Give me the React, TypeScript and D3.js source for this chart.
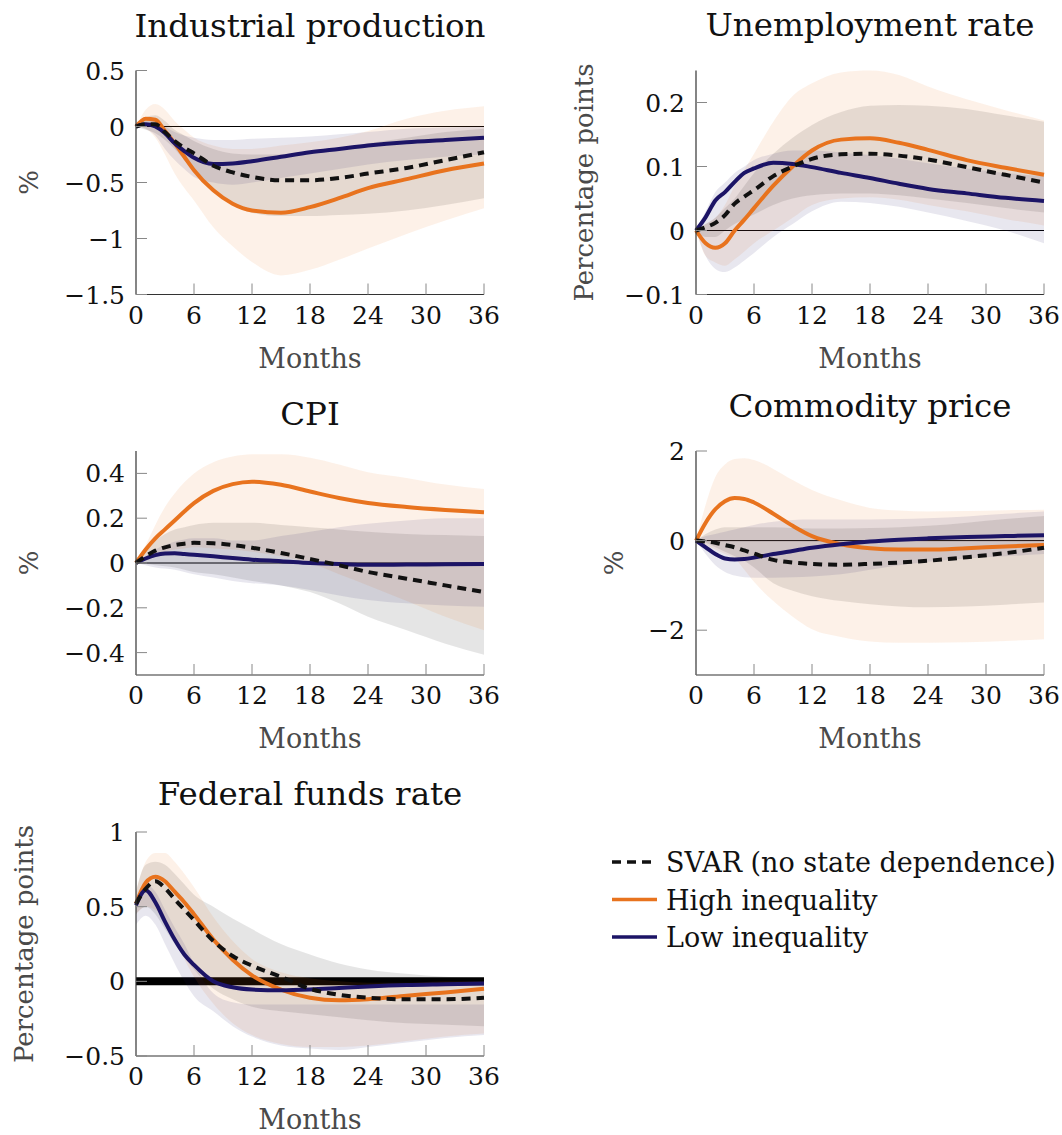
import React from "react";
import * as d3 from "d3";

const months = [0, 1, 2, 3, 4, 5, 6, 8, 10, 12, 15, 18, 21, 24, 28, 32, 36];
const xTicks = [0, 6, 12, 18, 24, 30, 36];
const legendNames = ["SVAR (no state dependence)", "High inequality", "Low inequality"];

// Industrial production
const ipSvar = [0, 0.02, 0.02, -0.05, -0.13, -0.19, -0.24, -0.35, -0.41, -0.45, -0.48, -0.48, -0.46, -0.42, -0.37, -0.3, -0.23];
const ipHigh = [0, 0.07, 0.06, -0.04, -0.15, -0.27, -0.39, -0.57, -0.69, -0.75, -0.77, -0.72, -0.64, -0.55, -0.47, -0.39, -0.33];
const ipLow = [0, 0.02, 0, -0.06, -0.15, -0.22, -0.28, -0.335, -0.33, -0.31, -0.27, -0.23, -0.2, -0.17, -0.14, -0.12, -0.1];
const ipSvarHi = [0, 0.08, 0.1, 0.05, -0.03, -0.08, -0.13, -0.2, -0.24, -0.25, -0.25, -0.23, -0.19, -0.15, -0.1, -0.05, -0.02];
const ipSvarLo = [0, -0.03, -0.06, -0.12, -0.2, -0.3, -0.4, -0.58, -0.7, -0.77, -0.8, -0.8, -0.79, -0.78, -0.75, -0.7, -0.64];
const ipHighHi = [0, 0.15, 0.2, 0.15, 0.05, -0.03, -0.1, -0.17, -0.2, -0.2, -0.17, -0.14, -0.1, -0.04, 0.07, 0.14, 0.18];
const ipHighLo = [0, -0.02, -0.1, -0.25, -0.42, -0.55, -0.66, -0.9, -1.07, -1.21, -1.33, -1.28, -1.19, -1.09, -0.96, -0.84, -0.73];
const ipLowHi = [0, 0.05, 0.05, 0, -0.05, -0.08, -0.1, -0.12, -0.12, -0.11, -0.1, -0.09, -0.07, -0.05, -0.02, -0.01, 0];
const ipLowLo = [0, -0.02, -0.08, -0.2, -0.3, -0.38, -0.45, -0.5, -0.52, -0.5, -0.46, -0.42, -0.38, -0.34, -0.3, -0.27, -0.25];

// Unemployment rate
const urSvar = [0, 0.005, 0.012, 0.024, 0.042, 0.053, 0.063, 0.085, 0.1, 0.112, 0.119, 0.12, 0.117, 0.111, 0.099, 0.087, 0.075];
const urHigh = [0, -0.02, -0.027, -0.02, 0, 0.017, 0.035, 0.07, 0.1, 0.125, 0.142, 0.144, 0.137, 0.126, 0.11, 0.098, 0.087];
const urLow = [0, 0.021, 0.047, 0.06, 0.076, 0.09, 0.097, 0.106, 0.104, 0.099, 0.09, 0.082, 0.073, 0.065, 0.058, 0.051, 0.046];
const urSvarHi = [0, 0.01, 0.02, 0.035, 0.05, 0.07, 0.09, 0.12, 0.145, 0.165, 0.185, 0.195, 0.196, 0.195, 0.19, 0.18, 0.17];
const urSvarLo = [0, -0.01, -0.01, 0, 0.01, 0.018, 0.025, 0.04, 0.05, 0.055, 0.058, 0.058, 0.055, 0.05, 0.043, 0.035, 0.028];
const urHighHi = [0, 0.01, 0.02, 0.04, 0.07, 0.095, 0.12, 0.17, 0.21, 0.23, 0.247, 0.25, 0.243, 0.225, 0.205, 0.188, 0.172];
const urHighLo = [0, -0.04, -0.05, -0.055, -0.045, -0.033, -0.02, 0, 0.02, 0.04, 0.05, 0.052, 0.048, 0.04, 0.03, 0.018, 0.008];
const urLowHi = [0, 0.03, 0.06, 0.075, 0.09, 0.1, 0.11, 0.12, 0.125, 0.125, 0.122, 0.118, 0.112, 0.105, 0.097, 0.09, 0.085];
const urLowLo = [0, -0.04, -0.06, -0.065, -0.058, -0.047, -0.035, -0.01, 0.01, 0.03, 0.045, 0.043, 0.037, 0.028, 0.015, 0, -0.02];

// CPI
const cpiSvar = [0, 0.03, 0.055, 0.07, 0.08, 0.086, 0.09, 0.088, 0.08, 0.068, 0.045, 0.018, -0.01, -0.04, -0.07, -0.1, -0.13];
const cpiHigh = [0, 0.06, 0.11, 0.15, 0.19, 0.23, 0.267, 0.322, 0.352, 0.363, 0.349, 0.319, 0.29, 0.268, 0.25, 0.237, 0.227];
const cpiLow = [0, 0.02, 0.035, 0.042, 0.043, 0.04, 0.037, 0.03, 0.022, 0.015, 0.008, 0, -0.005, -0.008, -0.007, -0.006, -0.005];
const cpiSvarHi = [0, 0.05, 0.1, 0.13, 0.15, 0.16, 0.17, 0.18, 0.18, 0.18, 0.17, 0.16, 0.15, 0.14, 0.13, 0.125, 0.12];
const cpiSvarLo = [0, -0.005, -0.01, -0.015, -0.02, -0.03, -0.04, -0.05, -0.065, -0.08, -0.1, -0.13, -0.18, -0.24, -0.3, -0.36, -0.41];
const cpiHighHi = [0, 0.08, 0.17, 0.25, 0.31, 0.36, 0.4, 0.45, 0.475, 0.485, 0.485, 0.47, 0.44, 0.405, 0.38, 0.35, 0.33];
const cpiHighLo = [0, 0.01, 0.03, 0.05, 0.06, 0.065, 0.07, 0.065, 0.06, 0.05, 0.03, 0, -0.05, -0.1, -0.17, -0.24, -0.3];
const cpiLowHi = [0, 0.03, 0.06, 0.08, 0.095, 0.105, 0.11, 0.11, 0.1, 0.1, 0.12, 0.14, 0.16, 0.175, 0.19, 0.2, 0.2];
const cpiLowLo = [0, -0.01, -0.02, -0.025, -0.03, -0.04, -0.05, -0.065, -0.08, -0.09, -0.1, -0.12, -0.145, -0.165, -0.18, -0.19, -0.195];

// Commodity price
const cpSvar = [0, -0.02, -0.05, -0.1, -0.15, -0.22, -0.29, -0.43, -0.49, -0.52, -0.54, -0.52, -0.49, -0.45, -0.37, -0.28, -0.16];
const cpHigh = [0, 0.4, 0.7, 0.88, 0.95, 0.93, 0.85, 0.6, 0.33, 0.1, -0.08, -0.17, -0.2, -0.2, -0.17, -0.13, -0.1];
const cpLow = [0, -0.15, -0.3, -0.4, -0.42, -0.41, -0.38, -0.3, -0.23, -0.16, -0.08, -0.02, 0.02, 0.05, 0.08, 0.1, 0.12];
const cpSvarHi = [0, 0.15, 0.25, 0.3, 0.3, 0.3, 0.3, 0.3, 0.28, 0.27, 0.27, 0.28, 0.3, 0.33, 0.4, 0.48, 0.55];
const cpSvarLo = [0, -0.05, -0.15, -0.25, -0.35, -0.45, -0.6, -0.95, -1.12, -1.24, -1.35, -1.42, -1.47, -1.49, -1.47, -1.43, -1.38];
const cpHighHi = [0, 0.8, 1.42, 1.7, 1.82, 1.84, 1.8, 1.6, 1.35, 1.13, 0.9, 0.73, 0.67, 0.65, 0.66, 0.68, 0.69];
const cpHighLo = [0, -0.1, -0.2, -0.3, -0.4, -0.65, -0.92, -1.35, -1.7, -1.98, -2.15, -2.25, -2.28, -2.28, -2.27, -2.24, -2.2];
const cpLowHi = [0, 0.1, 0.15, 0.2, 0.25, 0.3, 0.35, 0.42, 0.46, 0.47, 0.47, 0.47, 0.48, 0.5, 0.54, 0.6, 0.65];
const cpLowLo = [0, -0.3, -0.55, -0.7, -0.78, -0.82, -0.83, -0.83, -0.82, -0.8, -0.75, -0.65, -0.55, -0.47, -0.4, -0.35, -0.3];

// Federal funds rate
const ffSvar = [0.52, 0.62, 0.67, 0.625, 0.55, 0.48, 0.41, 0.27, 0.17, 0.105, 0.03, -0.05, -0.09, -0.11, -0.12, -0.12, -0.11];
const ffHigh = [0.52, 0.66, 0.7, 0.67, 0.6, 0.53, 0.45, 0.28, 0.145, 0.04, -0.055, -0.11, -0.127, -0.12, -0.096, -0.074, -0.05];
const ffLow = [0.51, 0.61, 0.53, 0.4, 0.28, 0.18, 0.11, 0, -0.04, -0.055, -0.06, -0.055, -0.045, -0.035, -0.025, -0.02, -0.015];
const ffSvarHi = [0.6, 0.78, 0.8, 0.78, 0.72, 0.65, 0.58, 0.5, 0.42, 0.35, 0.25, 0.18, 0.12, 0.08, 0.05, 0.03, 0.02];
const ffSvarLo = [0.45, 0.5, 0.45, 0.35, 0.25, 0.16, 0.08, -0.05, -0.12, -0.17, -0.2, -0.22, -0.24, -0.26, -0.28, -0.29, -0.3];
const ffHighHi = [0.6, 0.8, 0.86, 0.86, 0.8, 0.72, 0.63, 0.43, 0.27, 0.15, 0.06, 0.02, 0, -0.01, -0.01, 0, 0];
const ffHighLo = [0.45, 0.5, 0.48, 0.4, 0.28, 0.15, 0.03, -0.15, -0.28, -0.36, -0.42, -0.44, -0.44, -0.43, -0.4, -0.37, -0.35];
const ffLowHi = [0.55, 0.65, 0.6, 0.48, 0.36, 0.25, 0.12, -0.08, -0.14, -0.155, -0.155, -0.155, -0.155, -0.155, -0.155, -0.155, -0.155];
const ffLowLo = [0.38, 0.44, 0.38, 0.25, 0.12, 0, -0.1, -0.2, -0.3, -0.37, -0.43, -0.45, -0.46, -0.44, -0.41, -0.38, -0.36];

const panels = [
  { title: "Industrial production", ylabel: "%", domain: [-1.5, 0.5], ticks: [-1.5, -1, -0.5, 0, 0.5],
    svar: ipSvar, high: ipHigh, low: ipLow, svarBand: [ipSvarLo, ipSvarHi], highBand: [ipHighLo, ipHighHi], lowBand: [ipLowLo, ipLowHi] },
  { title: "Unemployment rate", ylabel: "Percentage points", domain: [-0.1, 0.25], ticks: [-0.1, 0, 0.1, 0.2],
    svar: urSvar, high: urHigh, low: urLow, svarBand: [urSvarLo, urSvarHi], highBand: [urHighLo, urHighHi], lowBand: [urLowLo, urLowHi] },
  { title: "CPI", ylabel: "%", domain: [-0.5, 0.5], ticks: [-0.4, -0.2, 0, 0.2, 0.4],
    svar: cpiSvar, high: cpiHigh, low: cpiLow, svarBand: [cpiSvarLo, cpiSvarHi], highBand: [cpiHighLo, cpiHighHi], lowBand: [cpiLowLo, cpiLowHi] },
  { title: "Commodity price", ylabel: "%", domain: [-3, 2], ticks: [-2, 0, 2],
    svar: cpSvar, high: cpHigh, low: cpLow, svarBand: [cpSvarLo, cpSvarHi], highBand: [cpHighLo, cpHighHi], lowBand: [cpLowLo, cpLowHi] },
  { title: "Federal funds rate", ylabel: "Percentage points", domain: [-0.5, 1], ticks: [-0.5, 0, 0.5, 1],
    svar: ffSvar, high: ffHigh, low: ffLow, svarBand: [ffSvarLo, ffSvarHi], highBand: [ffHighLo, ffHighHi], lowBand: [ffLowLo, ffLowHi] },
];

// where each panel sits on the page
const layout = [
  { left: 136, top: 70.5, titleGap: 34, labelGap: 98, zeroWidth: 1 },
  { left: 696, top: 70.5, titleGap: 35, labelGap: 103, zeroWidth: 1 },
  { left: 136, top: 451, titleGap: 26, labelGap: 98, zeroWidth: 1 },
  { left: 696, top: 451, titleGap: 34, labelGap: 73, zeroWidth: 1 },
  { left: 136, top: 832, titleGap: 27, labelGap: 103, zeroWidth: 8 },
];

const W = 348;
const H = 224;
const FONT = '"DejaVu Serif", serif';
const ORANGE = "#e8731e";
const NAVY = "#1c1466";
const DASH = "9 6";

const fmt = (v: number) => (v < 0 ? "\u2212" : "") + String(Math.abs(v));

const Panel = ({ p, lay }: { p: any; lay: any }) => {
  const x = d3.scaleLinear().domain([0, 36]).range([lay.left, lay.left + W]);
  const y = d3.scaleLinear().domain(p.domain).range([lay.top + H, lay.top]);

  const area = (band: number[][]) =>
    d3.area<number>()
      .x((_, i) => x(months[i]))
      .y0((d) => y(d))
      .y1((_, i) => y(band[1][i]))
      .curve(d3.curveMonotoneX)(band[0]) || "";

  const line = (v: number[]) =>
    d3.line<number>()
      .x((_, i) => x(months[i]))
      .y((d) => y(d))
      .curve(d3.curveMonotoneX)(v) || "";

  const bottom = lay.top + H;

  return (
    <g>
      <line x1={x(0)} x2={x(36)} y1={y(0)} y2={y(0)} stroke="#000" strokeWidth={lay.zeroWidth} />

      <path d={area(p.svarBand)} fill="#000" fillOpacity={0.1} />
      <path d={area(p.highBand)} fill={ORANGE} fillOpacity={0.1} />
      <path d={area(p.lowBand)} fill={NAVY} fillOpacity={0.1} />

      <path d={line(p.high)} fill="none" stroke={ORANGE} strokeWidth={4} />
      <path d={line(p.low)} fill="none" stroke={NAVY} strokeWidth={4} />
      <path d={line(p.svar)} fill="none" stroke="#111" strokeWidth={4} strokeDasharray={DASH} />

      {/* axes */}
      <line x1={lay.left} x2={lay.left} y1={lay.top} y2={bottom} stroke="#333" strokeWidth={1.2} />
      <line x1={lay.left} x2={lay.left + W} y1={bottom} y2={bottom} stroke="#333" strokeWidth={1.2} />

      {p.ticks.map((t: number) => (
        <g key={"y" + t}>
          <line x1={lay.left} x2={lay.left + 11} y1={y(t)} y2={y(t)} stroke="#888" strokeWidth={1} />
          <text x={lay.left - 11} y={y(t)} dy="0.36em" textAnchor="end" fontSize={25} fill="#111">
            {fmt(t)}
          </text>
        </g>
      ))}
      {xTicks.map((t) => (
        <g key={"x" + t}>
          <line x1={x(t)} x2={x(t)} y1={bottom} y2={bottom - 11} stroke="#888" strokeWidth={1} />
          <text x={x(t)} y={bottom + 29} textAnchor="middle" fontSize={25} fill="#111">
            {t}
          </text>
        </g>
      ))}

      <text x={lay.left + W / 2} y={bottom + 73} textAnchor="middle" fontSize={27} fill="#4a4a4a">
        Months
      </text>
      <text
        transform={`translate(${lay.left - lay.labelGap},${lay.top + H / 2}) rotate(-90)`}
        textAnchor="middle"
        fontSize={26}
        fill="#4a4a4a"
      >
        {p.ylabel}
      </text>
      <text x={lay.left + W / 2} y={lay.top - lay.titleGap} textAnchor="middle" fontSize={32.5} fill="#111">
        {p.title}
      </text>
    </g>
  );
};

const Legend = () => {
  const rows = [
    { stroke: "#111", dash: DASH },
    { stroke: ORANGE, dash: undefined },
    { stroke: NAVY, dash: undefined },
  ];
  return (
    <g>
      {rows.map((r, i) => {
        const cy = 862 + i * 37.5;
        return (
          <g key={i}>
            <line x1={612} x2={657} y1={cy} y2={cy} stroke={r.stroke} strokeWidth={3.5} strokeDasharray={r.dash} />
            <text x={666} y={cy + 10} fontSize={27} fill="#111">
              {legendNames[i]}
            </text>
          </g>
        );
      })}
    </g>
  );
};

export default function App() {
  return (
    <svg
      width={1062}
      height={1135}
      fontFamily={FONT}
      style={{ position: "absolute", left: 0, top: 0, background: "#fff" }}
    >
      {panels.map((p, i) => (
        <Panel key={p.title} p={p} lay={layout[i]} />
      ))}
      <Legend />
    </svg>
  );
}
